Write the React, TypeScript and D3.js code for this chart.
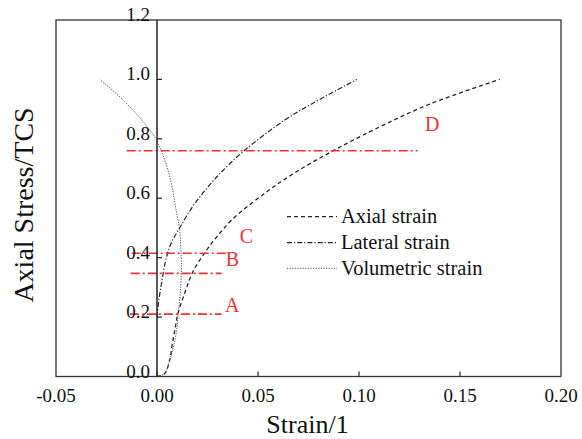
import { useEffect, useRef } from "react";
import * as d3 from "d3";

const axialStrain = [0, 0.0038, 0.0063, 0.0075, 0.009, 0.0104, 0.0137, 0.0178, 0.0236, 0.0291, 0.0375, 0.0542, 0.069, 0.088, 0.1102, 0.135, 0.1697];
const axialStress = [0, 0.01, 0.056, 0.106, 0.163, 0.213, 0.28, 0.353, 0.416, 0.466, 0.53, 0.621, 0.689, 0.763, 0.84, 0.917, 1.0];

const lateralStrain = [0, 0.0006, 0.0021, 0.0046, 0.0073, 0.0112, 0.0162, 0.0211, 0.0261, 0.031, 0.0426, 0.0632, 0.0772, 0.099];
const lateralStress = [0.2, 0.241, 0.308, 0.399, 0.453, 0.5, 0.557, 0.604, 0.645, 0.682, 0.757, 0.863, 0.92, 1.0];

const volStrain = [0, 0.0038, 0.0065, 0.0085, 0.0098, 0.0107, 0.0116, 0.0121, 0.0118, 0.0112, 0.009, 0.0071, 0.0038, -0.0003, -0.0069, -0.0168, -0.0284];
const volStress = [0, 0.01, 0.06, 0.11, 0.16, 0.224, 0.29, 0.37, 0.43, 0.493, 0.577, 0.65, 0.729, 0.796, 0.858, 0.931, 1.0];

// red stress levels
const markerLabels = ["A", "B", "C", "D"];
const markerStress = [0.21, 0.347, 0.415, 0.76];
const markerFrom = [-0.0134, -0.013, -0.0125, -0.015];
const markerTo = [0.032, 0.032, 0.0345, 0.129];
const markerLabelStrain = [0.0373, 0.0373, 0.0443, 0.1363];
const markerLabelStress = [0.218, 0.373, 0.45, 0.827];

const xTicks = [-0.05, 0, 0.05, 0.1, 0.15, 0.2];
const yTicks = [0, 0.2, 0.4, 0.6, 0.8, 1.0, 1.2];

const legendNames = ["Axial strain", "Lateral strain", "Volumetric strain"];

const FONT = "'Liberation Serif', 'Times New Roman', serif";

export default function App() {
  const svgRef = useRef<SVGSVGElement>(null);

  useEffect(() => {
    const svg = d3.select(svgRef.current);
    svg.selectAll("*").remove();

    const x = d3.scaleLinear().domain([-0.05, 0.2]).range([56, 561]);
    const y = d3.scaleLinear().domain([0, 1.2]).range([376.5, 20]);

    const series = [
      { xs: axialStrain, ys: axialStress, dash: "4,3", width: 1.3, color: "#222" },
      { xs: lateralStrain, ys: lateralStress, dash: "5,2,1.2,2", width: 1.2, color: "#222" },
      { xs: volStrain, ys: volStress, dash: "1.3,1.3", width: 1, color: "#555" },
    ];

    const line = d3.line<[number, number]>()
      .x(d => x(d[0]))
      .y(d => y(d[1]))
      .curve(d3.curveCatmullRom);

    series.forEach(s => {
      const pts = s.xs.map((v, i) => [v, s.ys[i]] as [number, number]);
      svg.append("path")
        .attr("d", line(pts))
        .attr("fill", "none")
        .attr("stroke", s.color)
        .attr("stroke-width", s.width)
        .attr("stroke-dasharray", s.dash);
    });

    // red levels
    markerLabels.forEach((lab, i) => {
      svg.append("line")
        .attr("x1", x(markerFrom[i]))
        .attr("x2", x(markerTo[i]))
        .attr("y1", y(markerStress[i]))
        .attr("y2", y(markerStress[i]))
        .attr("stroke", "#f03232")
        .attr("stroke-width", 1.6)
        .attr("stroke-dasharray", "9,3,2,3");
      svg.append("text")
        .attr("x", x(markerLabelStrain[i]))
        .attr("y", y(markerLabelStress[i]))
        .attr("text-anchor", "middle")
        .style("font-family", FONT)
        .style("font-size", "20px")
        .style("fill", "#f03232")
        .text(lab);
    });

    // frame
    svg.append("rect")
      .attr("x", 56).attr("y", 20)
      .attr("width", 505).attr("height", 356.5)
      .attr("fill", "none")
      .attr("stroke", "#333")
      .attr("stroke-width", 1.3);

    // y axis at strain = 0
    svg.append("line")
      .attr("x1", x(0)).attr("x2", x(0))
      .attr("y1", y(0)).attr("y2", y(1.2))
      .attr("stroke", "#222")
      .attr("stroke-width", 1.5);

    yTicks.forEach(t => {
      if (t > 0 && t < 1.2) {
        svg.append("line")
          .attr("x1", x(0)).attr("x2", x(0) + 5)
          .attr("y1", y(t)).attr("y2", y(t))
          .attr("stroke", "#222").attr("stroke-width", 1.2);
      }
      svg.append("text")
        .attr("x", x(0) - 7)
        .attr("y", y(t) + 1)
        .attr("text-anchor", "end")
        .style("font-family", FONT)
        .style("font-size", "19px")
        .style("fill", "#111")
        .text(t.toFixed(1));
    });

    xTicks.forEach(t => {
      if (t > -0.05 && t < 0.2) {
        svg.append("line")
          .attr("x1", x(t)).attr("x2", x(t))
          .attr("y1", y(0)).attr("y2", y(0) - 5)
          .attr("stroke", "#222").attr("stroke-width", 1.2);
      }
      svg.append("text")
        .attr("x", x(t))
        .attr("y", 401.5)
        .attr("text-anchor", "middle")
        .style("font-family", FONT)
        .style("font-size", "19px")
        .style("fill", "#111")
        .text(t.toFixed(2)); // plain hyphen minus, like the original
    });

    // axis titles
    svg.append("text")
      .attr("x", 307.5).attr("y", 433)
      .attr("text-anchor", "middle")
      .style("font-family", FONT)
      .style("font-size", "26px")
      .style("fill", "#111")
      .text("Strain/1");

    svg.append("text")
      .attr("transform", "translate(33,205) rotate(-90)")
      .attr("text-anchor", "middle")
      .style("font-family", FONT)
      .style("font-size", "28px")
      .style("fill", "#111")
      .text("Axial Stress/TCS");

    // legend
    const legY = [216.7, 242.7, 268.3];
    legendNames.forEach((name, i) => {
      svg.append("line")
        .attr("x1", 287).attr("x2", 337)
        .attr("y1", legY[i]).attr("y2", legY[i])
        .attr("stroke", series[i].color)
        .attr("stroke-width", series[i].width)
        .attr("stroke-dasharray", series[i].dash);
      svg.append("text")
        .attr("x", 341)
        .attr("y", legY[i] + 6.5)
        .style("font-family", FONT)
        .style("font-size", "20.5px")
        .style("fill", "#111")
        .text(name);
    });
  }, []);

  return (
    <div style={{ position: "absolute", left: 0, top: 0, background: "#fff" }}>
      <svg ref={svgRef} width={582} height={439} style={{ display: "block" }} />
    </div>
  );
}
